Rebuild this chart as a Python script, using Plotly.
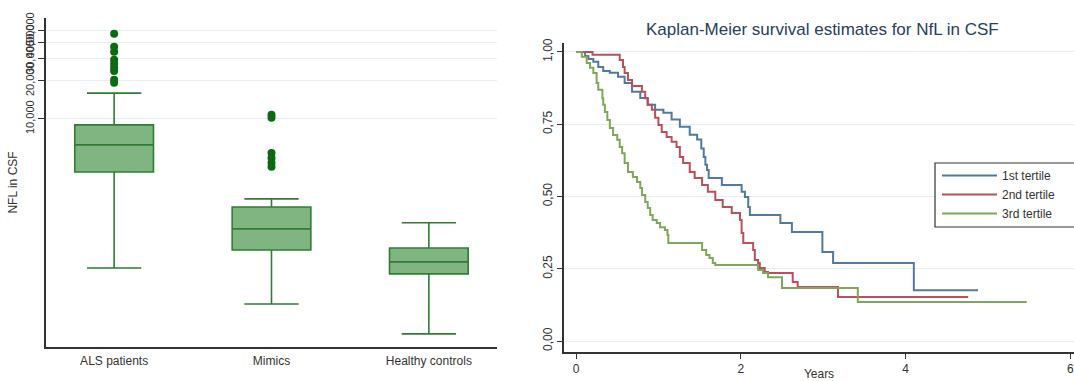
import plotly.graph_objects as go

# ---------------- Left panel: box plot data (NFL in CSF) ----------------
groups = ["ALS patients", "Mimics", "Healthy controls"]
q1_vals = [3790, 912, 589]
median_vals = [6220, 1340, 733]
q3_vals = [8960, 2000, 946]
lower_whisker = [656, 340, 197]
upper_whisker = [16000, 2320, 1500]
als_outliers = [47300, 37300, 34000, 29400, 27300, 25400, 24000, 20400, 19300]
mimics_outliers = [10760, 10180, 5370, 4900, 4480, 4160]
y_tickvals = [10000, 20000, 30000, 40000, 50000]
y_ticktext = ["10,000", "20,000", "30,000", "40,000", "50,000"]

# ---------------- Right panel: Kaplan-Meier estimates ----------------
t1 = [0, 0.11, 0.15, 0.21, 0.27, 0.33, 0.41, 0.51, 0.59, 0.68, 0.78, 0.87, 0.96, 1.06, 1.16, 1.26,
      1.38, 1.47, 1.52, 1.55, 1.57, 1.59, 1.61, 1.77, 2.01, 2.05, 2.09, 2.11, 2.48, 2.62, 2.99, 3.12,
      4.10, 4.88]
s1 = [1.0, 0.986, 0.976, 0.966, 0.948, 0.934, 0.928, 0.914, 0.893, 0.862, 0.841, 0.817, 0.80, 0.79,
      0.766, 0.741, 0.714, 0.697, 0.666, 0.637, 0.61, 0.592, 0.564, 0.54, 0.516, 0.498, 0.464, 0.436,
      0.408, 0.377, 0.308, 0.27, 0.176, 0.176]
t2 = [0, 0.2, 0.53, 0.57, 0.59, 0.63, 0.68, 0.80, 0.84, 0.87, 0.92, 0.96, 1.00, 1.04, 1.10, 1.16,
      1.22, 1.26, 1.30, 1.38, 1.44, 1.53, 1.60, 1.69, 1.78, 1.89, 1.99, 2.01, 2.03, 2.15, 2.17, 2.21,
      2.23, 2.29, 2.33, 2.63, 2.69, 3.18, 4.76]
s2 = [1.0, 0.99, 0.972, 0.948, 0.927, 0.903, 0.882, 0.862, 0.84, 0.817, 0.80, 0.772, 0.747, 0.723,
      0.706, 0.689, 0.671, 0.637, 0.616, 0.585, 0.564, 0.54, 0.516, 0.488, 0.464, 0.443, 0.419, 0.374,
      0.339, 0.315, 0.28, 0.27, 0.253, 0.239, 0.235, 0.204, 0.187, 0.152, 0.152]
t3 = [0, 0.07, 0.13, 0.17, 0.21, 0.25, 0.27, 0.32, 0.33, 0.35, 0.38, 0.41, 0.45, 0.50, 0.53, 0.56,
      0.59, 0.63, 0.69, 0.74, 0.78, 0.80, 0.84, 0.87, 0.90, 0.93, 0.98, 1.02, 1.08, 1.11, 1.12, 1.53,
      1.58, 1.62, 1.66, 1.69, 2.21, 2.27, 2.33, 2.50, 3.42, 5.47]
s3 = [1.0, 0.983, 0.962, 0.945, 0.927, 0.893, 0.869, 0.84, 0.817, 0.792, 0.765, 0.737, 0.713, 0.696,
      0.671, 0.65, 0.616, 0.585, 0.567, 0.55, 0.529, 0.505, 0.481, 0.46, 0.436, 0.419, 0.408, 0.394,
      0.384, 0.367, 0.339, 0.315, 0.298, 0.287, 0.27, 0.263, 0.246, 0.235, 0.221, 0.183, 0.135, 0.135]
km_names = ["1st tertile", "2nd tertile", "3rd tertile"]
km_colors = ["#52799f", "#b8505d", "#80a65c"]
x_tickvals = [0, 2, 4, 6]
km_tickvals = [0, 0.25, 0.5, 0.75, 1.0]
km_ticktext = ["0,00", "0,25", "0,50", "0,75", "1,00"]

FONT = "Liberation Sans, Arial, sans-serif"
W, H = 1074, 381

fig = go.Figure()

box_fill = "rgba(60,140,60,0.65)"
box_line = "#2f7d33"
for i, g in enumerate(groups):
    fig.add_trace(go.Box(
        x=[g], q1=[q1_vals[i]], median=[median_vals[i]], q3=[q3_vals[i]],
        lowerfence=[lower_whisker[i]], upperfence=[upper_whisker[i]],
        fillcolor=box_fill, line=dict(color=box_line, width=1.6),
        width=0.5, whiskerwidth=0.69, boxpoints=False,
        xaxis="x", yaxis="y", showlegend=False, hoverinfo="skip"))

fig.add_trace(go.Scatter(x=[groups[0]] * len(als_outliers), y=als_outliers, mode="markers",
                         marker=dict(color="#0b6a12", size=8), xaxis="x", yaxis="y",
                         showlegend=False))
fig.add_trace(go.Scatter(x=[groups[1]] * len(mimics_outliers), y=mimics_outliers, mode="markers",
                         marker=dict(color="#0b6a12", size=8), xaxis="x", yaxis="y",
                         showlegend=False))

for tt, ss, nm, col in zip([t1, t2, t3], [s1, s2, s3], km_names, km_colors):
    fig.add_trace(go.Scatter(x=tt, y=ss, mode="lines", line=dict(color=col, width=2, shape="hv"),
                             name=nm, xaxis="x2", yaxis="y2"))

grid_col = "#e6eeee"
fig.update_layout(
    width=W, height=H,
    margin=dict(l=0, r=0, t=0, b=0, autoexpand=False),
    paper_bgcolor="white", plot_bgcolor="white",
    font=dict(family=FONT, color="#333333", size=11),
    boxmode="overlay",
    xaxis=dict(domain=[46 / W, 497 / W], type="category", categoryorder="array",
               categoryarray=groups, range=[-0.433, 2.433], automargin=False,
               showline=True, linecolor="#333333", linewidth=1.5, ticks="",
               tickfont=dict(size=12, color="#333333"), showgrid=False, zeroline=False,
               ticklabelstandoff=2),
    yaxis=dict(domain=[(H - 347) / H, (H - 18) / H], type="log", range=[2.19, 4.80],
               tickvals=y_tickvals, ticktext=y_ticktext, tickangle=-90, automargin=False,
               showline=True, linecolor="#333333", linewidth=1.5, ticks="outside", ticklen=6,
               tickcolor="#333333", showgrid=True, gridcolor=grid_col, gridwidth=1,
               zeroline=False, tickfont=dict(size=11, color="#333333"),
               title=dict(text="NFL in CSF", font=dict(size=12, color="#333333"), standoff=4)),
    xaxis2=dict(domain=[564 / W, 1.0], range=[-0.146, 6.044], tickvals=x_tickvals,
                automargin=False, ticklabeloverflow="allow",
                showline=True, linecolor="#333333", linewidth=1.5, ticks="outside", ticklen=5,
                tickcolor="#333333", showgrid=False, zeroline=False,
                tickfont=dict(size=12, color="#333333"),
                title=dict(text="Years", font=dict(size=12, color="#333333"), standoff=2)),
    yaxis2=dict(domain=[(H - 352) / H, (H - 43) / H], range=[-0.038, 1.031],
                tickvals=km_tickvals, ticktext=km_ticktext, tickangle=-90, automargin=False,
                showline=True, linecolor="#333333", linewidth=1.5, ticks="outside", ticklen=5,
                tickcolor="#333333", showgrid=True, gridcolor=grid_col, gridwidth=1,
                zeroline=False, tickfont=dict(size=12, color="#333333"), anchor="x2"),
    legend=dict(x=937 / W, y=(H - 161) / H, xanchor="left", yanchor="top",
                borderwidth=0, bgcolor="rgba(0,0,0,0)", itemwidth=55,
                font=dict(size=12, color="#333333"), tracegroupgap=0),
    shapes=[dict(type="rect", xref="paper", yref="paper", x0=935 / W, x1=1.01,
                 y0=(H - 227) / H, y1=(H - 163) / H, fillcolor="white",
                 line=dict(color="#333333", width=1.2), layer="above")],
    annotations=[dict(text="Kaplan-Meier survival estimates for NfL in CSF", x=822 / W,
                      y=(H - 30) / H, xref="paper", yref="paper", showarrow=False,
                      xanchor="center", yanchor="middle",
                      font=dict(size=17, color="#27405e", family=FONT))],
)
fig.update_layout(xaxis2_anchor="y2")

fig.write_html("out.html", config={"displayModeBar": False},
               post_script="document.body.style.margin='0';document.body.style.overflow='hidden';")
